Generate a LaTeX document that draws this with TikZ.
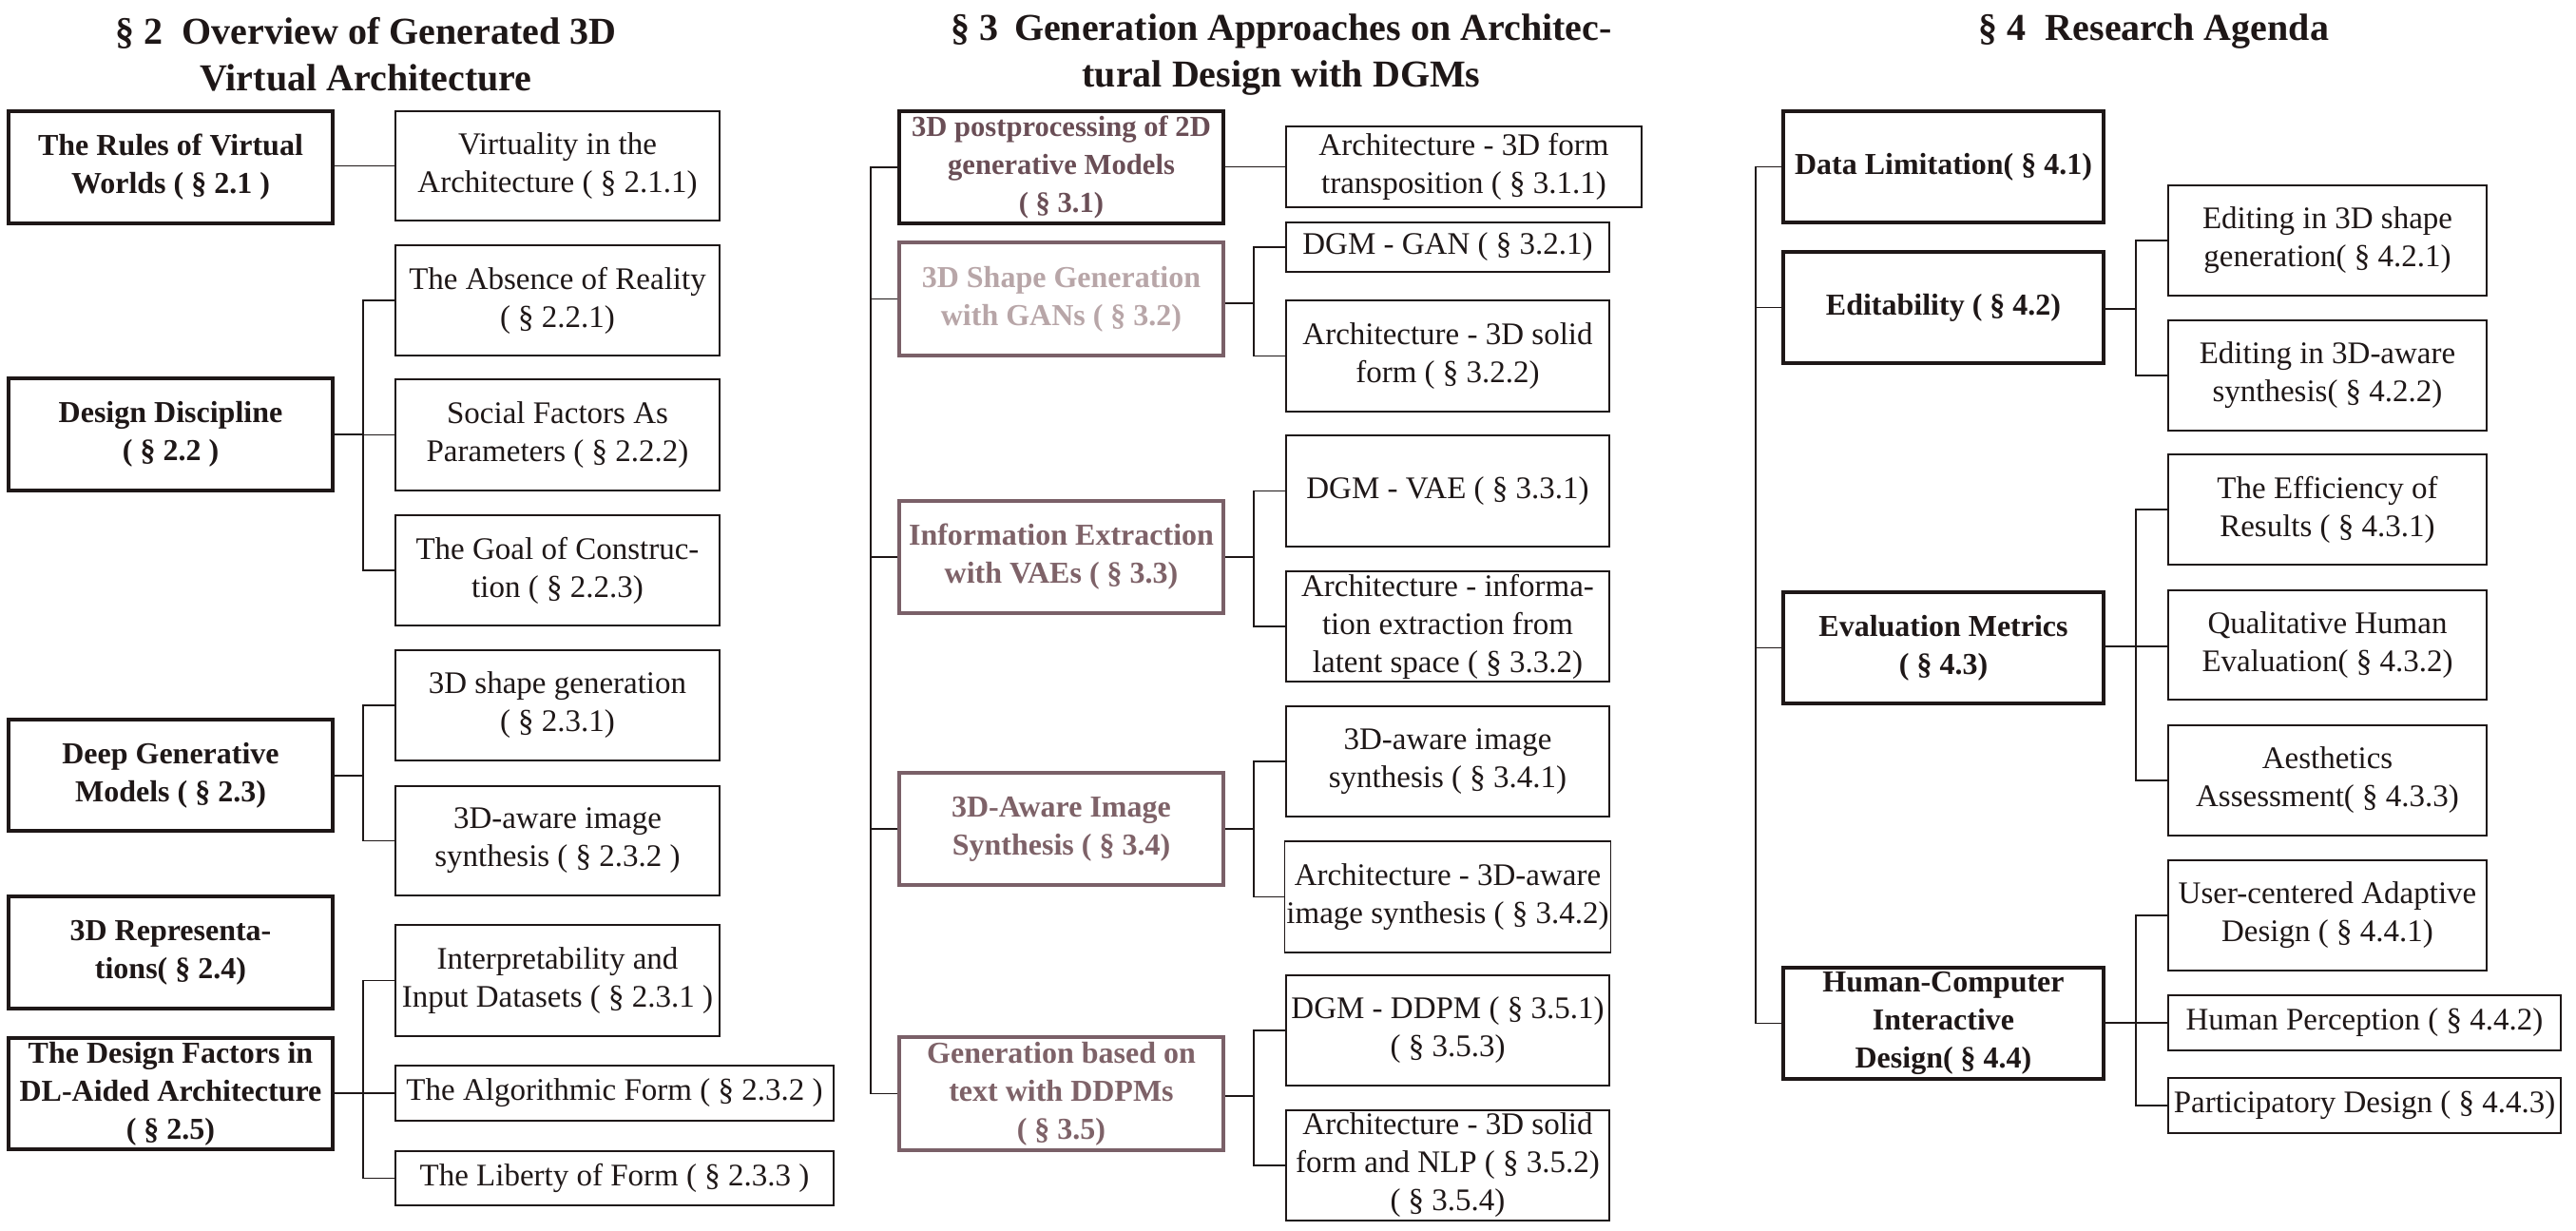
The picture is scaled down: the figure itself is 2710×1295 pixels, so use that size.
\documentclass[tikz,border=0pt]{standalone}
\usepackage{fontspec}
\setmainfont{Liberation Serif}
\definecolor{ink}{HTML}{1E1717}
\definecolor{mauve}{HTML}{7A6068}
\definecolor{mauvetext}{HTML}{7E6268}
\definecolor{paletext}{HTML}{B8A6A8}
\definecolor{darkmauve}{HTML}{6A4E56}
\begin{document}
\begin{tikzpicture}[x=0.5pt,y=-0.5pt,
  every node/.style={text=ink, align=center, inner sep=1pt},
  title/.style={font=\fontsize{20}{24.5}\selectfont\bfseries},
  mainbox/.style={draw=ink, line width=1.6pt, font=\fontsize{16}{20}\selectfont\bfseries, minimum width=170.5pt, minimum height=59pt},
  midbox/.style={mainbox, draw=mauve, text=mauvetext},
  rmain/.style={mainbox, minimum width=168.5pt},
  subbox/.style={draw=ink, line width=0.7pt, font=\fontsize{16.5}{20}\selectfont, minimum height=58pt},
  lsub/.style={subbox, minimum width=170.5pt},
  lwide/.style={subbox, minimum width=230.5pt},
  msub/.style={subbox, minimum width=170pt},
  mwide/.style={subbox, minimum width=187pt},
  rsub/.style={subbox, minimum width=167.5pt},
  rwide/.style={subbox, minimum width=206.5pt},
  conn/.style={draw=ink, line width=0.8pt}]
\useasboundingbox (0,0) rectangle (2710,1295);

% ---------------- titles
\node[title] (T2) at (385,57) {§ 2\enspace Overview of Generated 3D\\Virtual Architecture};
\node[title] (T3) at (1348,58) {§ 3\, Generation Approaches on Architec-\\tural Design with DGMs};
\node[title] (T4) at (2266,33) {§ 4\enspace Research Agenda};

% ---------------- section 2
\node[mainbox] (L1) at (179.5,176) {The Rules of Virtual\\Worlds ( § 2.1 )};
\node[lsub, minimum height=57.5pt] (A11) at (586.5,174.5) {Virtuality in the\\Architecture ( § 2.1.1)};
\draw[conn] (L1.east |- A11.west) -- (A11.west);

\node[mainbox] (L2) at (179.5,457) {Design Discipline\\( § 2.2 )};
\node[lsub] (A21) at (586.5,316) {The Absence of Reality\\( § 2.2.1)};
\node[lsub, minimum height=58.5pt] (A22) at (586.5,457.5) {Social Factors As\\Parameters ( § 2.2.2)};
\node[lsub] (A23) at (586.5,600) {The Goal of Construc-\\tion ( § 2.2.3)};
\coordinate (BL2) at (382,457);
\draw[conn] (L2.east) -- (BL2);
\draw[conn] (A21.west) -| (BL2);
\draw[conn] (A23.west) -| (BL2);
\draw[conn] (A22.west) -- (A22.west -| BL2);

\node[mainbox, minimum height=58.5pt] (L3) at (179.5,815.5) {Deep Generative\\Models ( § 2.3)};
\node[lsub] (A31) at (586.5,742) {3D shape generation\\( § 2.3.1)};
\node[lsub, minimum height=57.5pt] (A32) at (586.5,884.5) {3D-aware image\\synthesis ( § 2.3.2 )};
\coordinate (BL3) at (382,816);
\draw[conn] (L3.east |- BL3) -- (BL3);
\draw[conn] (A31.west) -| (BL3);
\draw[conn] (A32.west) -| (BL3);

\node[mainbox] (L4) at (179.5,1002) {3D Representa-\\tions( § 2.4)};

\node[mainbox, minimum height=58.5pt] (L5) at (179.5,1150.5) {The Design Factors in\\DL-Aided Architecture\\( § 2.5)};
\node[lsub, minimum height=58.5pt] (A51) at (586.5,1031.5) {Interpretability and\\Input Datasets ( § 2.3.1 )};
\node[lwide, minimum height=29pt] (A52) at (646.5,1150) {The Algorithmic Form ( § 2.3.2 )};
\node[lwide, minimum height=28.5pt] (A53) at (646.5,1239.5) {The Liberty of Form ( § 2.3.3 )};
\coordinate (BL5) at (382,1150);
\draw[conn] (L5.east |- A52.west) -- (A52.west);
\draw[conn] (A51.west) -| (BL5);
\draw[conn] (A53.west) -| (BL5);

% ---------------- section 3
\node[mainbox, text=darkmauve, font=\fontsize{15.3}{20}\selectfont\bfseries] (M1) at (1116.5,176) {3D postprocessing of 2D\\generative Models\\( § 3.1)};
\node[mwide, minimum height=42.5pt] (B11) at (1540,175.5) {Architecture - 3D form\\transposition ( § 3.1.1)};
\draw[conn] (M1.east |- B11.west) -- (B11.west);

\node[midbox, text=paletext, minimum height=59.5pt] (M2) at (1116.5,314.5) {3D Shape Generation\\with GANs ( § 3.2)};
\node[msub, minimum height=26pt] (B21) at (1523,260) {DGM - GAN ( § 3.2.1)};
\node[msub, minimum height=58.5pt] (B22) at (1523,374.5) {Architecture - 3D solid\\form ( § 3.2.2)};
\coordinate (BM2) at (1319,319);
\draw[conn] (M2.east |- BM2) -- (BM2);
\draw[conn] (B21.west) -| (BM2);
\draw[conn] (B22.west) -| (BM2);

\node[midbox] (M3) at (1116.5,586) {Information Extraction\\with VAEs ( § 3.3)};
\node[msub, minimum height=58.5pt] (B31) at (1523,516.5) {DGM - VAE ( § 3.3.1)};
\node[msub] (B32) at (1523,659) {Architecture - informa-\\tion extraction from\\latent space ( § 3.3.2)};
\coordinate (BM3) at (1319,586);
\draw[conn] (M3.east) -- (BM3);
\draw[conn] (B31.west) -| (BM3);
\draw[conn] (B32.west) -| (BM3);

\node[midbox] (M4) at (1116.5,872) {3D-Aware Image\\Synthesis ( § 3.4)};
\node[msub] (B41) at (1523,801) {3D-aware image\\synthesis ( § 3.4.1)};
\node[msub, minimum height=58.5pt] (B42) at (1523,943.5) {Architecture - 3D-aware\\image synthesis ( § 3.4.2)};
\coordinate (BM4) at (1319,872);
\draw[conn] (M4.east) -- (BM4);
\draw[conn] (B41.west) -| (BM4);
\draw[conn] (B42.west) -| (BM4);

\node[midbox, minimum height=59.5pt] (M5) at (1116.5,1150.5) {Generation based on\\text with DDPMs\\( § 3.5)};
\node[msub] (B51) at (1523,1084) {DGM - DDPM ( § 3.5.1)\\( § 3.5.3)};
\node[msub] (B52) at (1523,1226) {Architecture - 3D solid\\form and NLP ( § 3.5.2)\\( § 3.5.4)};
\coordinate (BM5) at (1319,1153);
\draw[conn] (M5.east |- BM5) -- (BM5);
\draw[conn] (B51.west) -| (BM5);
\draw[conn] (B52.west) -| (BM5);

\coordinate (TM) at (916,0);
\draw[conn] (M1.west) -- (M1.west -| TM) -- (M5.west -| TM) -- (M5.west);
\draw[conn] (M2.west) -- (M2.west -| TM);
\draw[conn] (M3.west) -- (M3.west -| TM);
\draw[conn] (M4.west) -- (M4.west -| TM);

% ---------------- section 4
\node[rmain, minimum height=58.5pt] (R1) at (2044.5,175.5) {Data Limitation( § 4.1)};

\node[rmain, minimum height=58.5pt] (R2) at (2044.5,323.5) {Editability ( § 4.2)};
\node[rsub] (C21) at (2448.5,253) {Editing in 3D shape\\generation( § 4.2.1)};
\node[rsub] (C22) at (2448.5,395) {Editing in 3D-aware\\synthesis( § 4.2.2)};
\coordinate (BR2) at (2247,325);
\draw[conn] (R2.east |- BR2) -- (BR2);
\draw[conn] (C21.west) -| (BR2);
\draw[conn] (C22.west) -| (BR2);

\node[rmain, minimum height=58.5pt] (R3) at (2044.5,681.5) {Evaluation Metrics\\( § 4.3)};
\node[rsub] (C31) at (2448.5,536) {The Efficiency of\\Results ( § 4.3.1)};
\node[rsub, minimum height=57.5pt] (C32) at (2448.5,678.5) {Qualitative Human\\Evaluation( § 4.3.2)};
\node[rsub] (C33) at (2448.5,821) {Aesthetics\\Assessment( § 4.3.3)};
\coordinate (BR3) at (2247,680);
\draw[conn] (R3.east |- BR3) -- (C32.west |- BR3);
\draw[conn] (C31.west) -| (BR3);
\draw[conn] (C33.west) -| (BR3);

\node[rmain, minimum height=58.5pt] (R4) at (2044.5,1076.5) {Human-Computer\\Interactive\\Design( § 4.4)};
\node[rsub] (C41) at (2448.5,963) {User-centered Adaptive\\Design ( § 4.4.1)};
\node[rwide, minimum height=29pt] (C42) at (2487.5,1076) {Human Perception ( § 4.4.2)};
\node[rwide, minimum height=29pt] (C43) at (2487.5,1163) {Participatory Design ( § 4.4.3)};
\coordinate (BR4) at (2247,1076);
\draw[conn] (R4.east |- C42.west) -- (C42.west);
\draw[conn] (C41.west) -| (BR4);
\draw[conn] (C43.west) -| (BR4);

\coordinate (TR) at (1847,0);
\draw[conn] (R1.west) -- (R1.west -| TR) -- (R4.west -| TR) -- (R4.west);
\draw[conn] (R2.west) -- (R2.west -| TR);
\draw[conn] (R3.west) -- (R3.west -| TR);
\end{tikzpicture}
\end{document}
